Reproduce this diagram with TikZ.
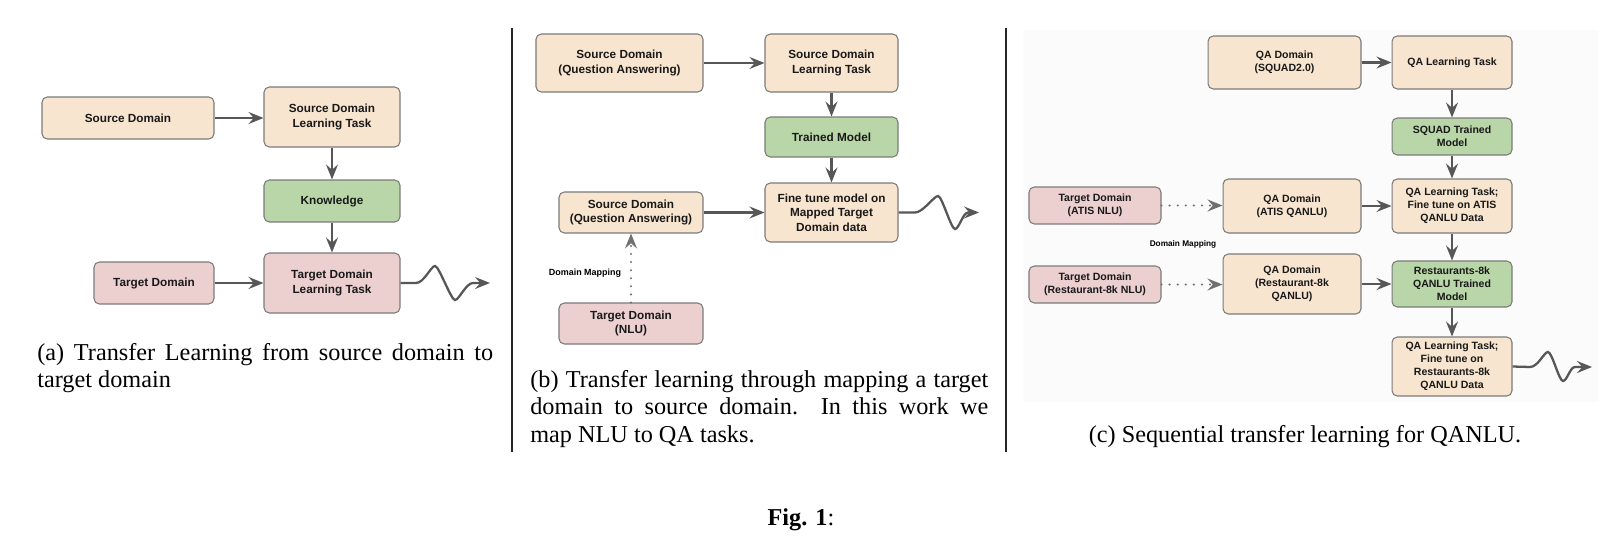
\documentclass[tikz,border=0pt]{standalone}
\usepackage{fontspec}
\setmainfont{Liberation Serif}
\setsansfont{Liberation Sans}
\usepackage{tikz}
\usetikzlibrary{arrows.meta}
\definecolor{peach}{HTML}{F8E5CF}
\definecolor{sage}{HTML}{B8D6A7}
\definecolor{rose}{HTML}{ECD0D0}
\definecolor{boxgray}{HTML}{7A7A7A}
\definecolor{arrowgray}{HTML}{575757}

\begin{document}
\begin{tikzpicture}[x=0.02cm,y=-0.02cm,
	box/.style={draw=boxgray,line width=0.6pt,rounded corners=3pt,align=center,inner sep=0pt,text=black!90,
		font=\sffamily\bfseries\fontsize{6.7}{8.2}\selectfont},
	src/.style={box,fill=peach},
	trn/.style={box,fill=sage},
	tgt/.style={box,fill=rose},
	small/.style={font=\sffamily\bfseries\fontsize{6}{7.4}\selectfont},
	link/.style={draw=arrowgray,line width=1.3pt,-{Stealth[length=8.5pt,width=6.8pt,inset=3pt]}},
	maplink/.style={link,draw=arrowgray!85,dash pattern=on 0pt off 4.6pt,line cap=round},
	maplabel/.style={font=\sffamily\bfseries\fontsize{5.1}{6}\selectfont,inner sep=0pt},
	captext/.style={font=\fontsize{13.8}{15.9}\selectfont,inner sep=0pt}]
		\useasboundingbox (0,0) rectangle (1616,541);
		\fill[black!1.5] (1023,30) rectangle (1598,402);
		\draw[line width=0.85pt,black!85] (512,28)--(512,452);
		\draw[line width=0.85pt,black!85] (1006,28)--(1006,452);

		%panel a
		\node[src,minimum width=3.44cm,minimum height=0.84cm] (SD) at (128,118) {Source Domain};
		\node[src,minimum width=2.72cm,minimum height=1.2cm] (SDT) at (332,117) {Source Domain\\Learning Task};
		\node[trn,minimum width=2.72cm,minimum height=0.84cm] (K) at (332,201) {Knowledge};
		\node[tgt,minimum width=2.72cm,minimum height=1.2cm] (TDT) at (332,283) {Target Domain\\Learning Task};
		\node[tgt,minimum width=2.4cm,minimum height=0.84cm] (TD) at (154,283) {Target Domain};
		\coordinate (W) at (490,283);

		\draw[link] (SD.east)--(SD.east -| SDT.west);
		\draw[link] (SDT)--(K);
		\draw[link] (K)--(TDT);
		\draw[link] (TD)--(TDT);
		\draw[link] (TDT.east)--(416,283) .. controls (424,283) and (431,266) .. (435,266)
			.. controls (439,266) and (451,300) .. (455,300)
			.. controls (459,300) and (466,283) .. (473,283)--(W);

		\node[captext,text width=9.12cm,align=justify,anchor=base west] (CA) at (37,360)
			{(a) Transfer Learning from source domain to target domain};

		%panel b
		\node[src,minimum width=3.34cm,minimum height=1.16cm] (QS) at (619.5,63) {Source Domain\\(Question Answering)};
		\node[src,minimum width=2.66cm,minimum height=1.16cm] (QT) at (831.5,63) {Source Domain\\Learning Task};
		\node[trn,minimum width=2.66cm,minimum height=0.8cm] (M) at (831.5,137) {Trained Model};
		\node[src,minimum width=2.66cm,minimum height=1.18cm] (F) at (831.5,212.5) {Fine tune model on\\Mapped Target\\Domain data};
		\node[src,minimum width=2.88cm,minimum height=0.82cm] (QS2) at (631,212.5) {Source Domain\\(Question Answering)};
		\node[tgt,minimum width=2.88cm,minimum height=0.82cm] (N) at (631,323.5) {Target Domain\\(NLU)};
		\coordinate (BW) at (979,212.5);

		\draw[link] (QS.east)--(QS.east -| QT.west);
		\draw[link] (QT)--(M);
		\draw[link] (M)--(F);
		\draw[link] (QS2.east)--(QS2.east -| F.west);
		\draw[maplink] (N)--(QS2) node[maplabel,pos=0.43,left=5pt] (DM) {Domain Mapping};
		\draw[link] (F.east)--(915,212.5) .. controls (923,212.5) and (934,196) .. (938,196)
			.. controls (942,196) and (951,229) .. (955,229)
			.. controls (959,229) and (963,212.5) .. (968,212.5)--(BW);

		\node[captext,text width=9.16cm,align=justify,anchor=base west] (CB) at (530,387)
			{(b) Transfer learning through mapping a target\linebreak domain to source domain.\ \ In this work we\linebreak map NLU to QA tasks.};

		%panel c
		\node[src,small,minimum width=3.06cm,minimum height=1.06cm] (CQ) at (1284.5,62.5) {QA Domain\\(SQUAD2.0)};
		\node[src,small,minimum width=2.4cm,minimum height=1.06cm] (CT) at (1452,62.5) {QA Learning Task};
		\node[trn,small,minimum width=2.4cm,minimum height=0.74cm] (CM) at (1452,136.5) {SQUAD Trained\\Model};
		\node[src,small,minimum width=2.4cm,minimum height=1.08cm] (CF) at (1452,206) {QA Learning Task;\\Fine tune on ATIS\\QANLU Data};
		\node[src,small,minimum width=2.76cm,minimum height=1.08cm] (CAT) at (1292,206) {QA Domain\\(ATIS QANLU)};
		\node[tgt,small,minimum width=2.64cm,minimum height=0.74cm] (CNA) at (1095,205.5) {Target Domain\\(ATIS NLU)};
		\node[trn,small,minimum width=2.4cm,minimum height=0.92cm] (CM2) at (1452,284) {Restaurants-8k\\QANLU Trained\\Model};
		\node[src,small,minimum width=2.76cm,minimum height=1.2cm] (CR) at (1292,284) {QA Domain\\(Restaurant-8k\\QANLU)};
		\node[tgt,small,minimum width=2.64cm,minimum height=0.74cm] (CNR) at (1095,284.5) {Target Domain\\(Restaurant-8k NLU)};
		\node[src,small,minimum width=2.4cm,minimum height=1.18cm] (CL) at (1452,366.5) {QA Learning Task;\\Fine tune on\\Restaurants-8k\\QANLU Data};
		\node[maplabel,font=\sffamily\bfseries\fontsize{4.7}{5.5}\selectfont] (CDM) at (1183,244) {Domain Mapping};
		\coordinate (CW) at (1592,367);

		\draw[link] (CQ)--(CT);
		\draw[link] (CT)--(CM);
		\draw[link] (CM)--(CF);
		\draw[link] (CAT)--(CF);
		\draw[link] (CF)--(CM2);
		\draw[link] (CR)--(CM2);
		\draw[link] (CM2)--(CL);
		\draw[maplink] (CNA.east)--(CNA.east -| CAT.west);
		\draw[maplink] (CNR.east)--(CNR.east -| CR.west);
		\draw[link] (CL.east)--(1530,367) .. controls (1538,367) and (1544,352) .. (1548,352)
			.. controls (1552,352) and (1559,381) .. (1563,381)
			.. controls (1567,381) and (1570,367) .. (1575,367)--(CW);

		\node[captext,anchor=base] (CC) at (1305,442) {(c) Sequential transfer learning for QANLU.};

		\node[captext,anchor=base] (FIG) at (801,525) {\textbf{Fig. 1}:};
\end{tikzpicture}
\end{document}
